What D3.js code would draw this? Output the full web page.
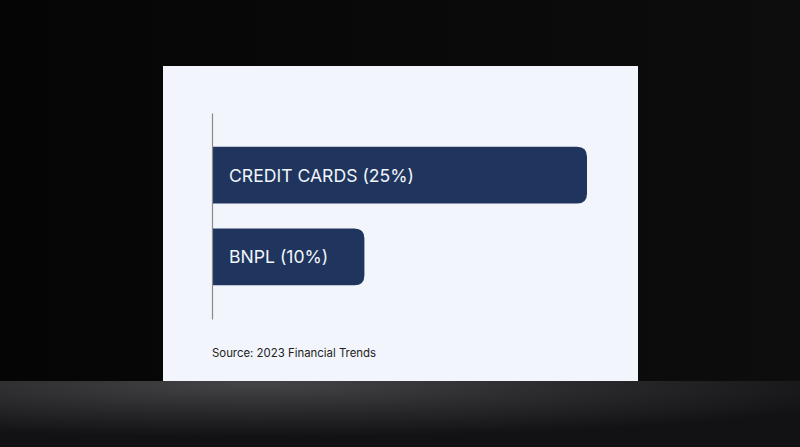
<!DOCTYPE html>
<html>
<head>
  <script src="https://d3js.org/d3.v7.min.js"></script>
  <style>
    body, html { margin: 0; padding: 0; overflow: hidden; background: #0a0a0a; }
    text { font-family: Inter, "Noto Sans", sans-serif; }
  </style>
</head>
<body>
  <div id="chart"></div>
  <script>
    // Data
    const categories = ["CREDIT CARDS", "BNPL"];
    const shares = [25, 10];
    const source = "Source: 2023 Financial Trends";

    const width = 800, height = 447;
    const card = { x: 163, y: 66, w: 475, h: 315 };
    const margin = { left: 49, top: 47 };

    const svg = d3.select("#chart").append("svg")
      .attr("width", width)
      .attr("height", height);

    const defs = svg.append("defs");

    // Background: dark wall + floor
    const wall = defs.append("linearGradient").attr("id", "wall")
      .attr("x1", 0).attr("x2", 1).attr("y1", 0).attr("y2", 0);
    wall.append("stop").attr("offset", "0%").attr("stop-color", "#050505");
    wall.append("stop").attr("offset", "100%").attr("stop-color", "#0d0d0e");

    const floor = defs.append("radialGradient").attr("id", "floor")
      .attr("cx", 0.32).attr("cy", 0.05).attr("r", 0.8);
    floor.append("stop").attr("offset", "0%").attr("stop-color", "#444447");
    floor.append("stop").attr("offset", "50%").attr("stop-color", "#2a2a2c");
    floor.append("stop").attr("offset", "100%").attr("stop-color", "#121214");

    svg.append("rect").attr("width", width).attr("height", height).attr("fill", "url(#wall)");
    svg.append("rect")
      .attr("x", 0).attr("y", card.y + card.h)
      .attr("width", width).attr("height", height - card.y - card.h)
      .attr("fill", "url(#floor)");

    // Card
    svg.append("rect")
      .attr("x", card.x).attr("y", card.y)
      .attr("width", card.w).attr("height", card.h)
      .attr("fill", "#f2f5fb");

    const g = svg.append("g")
      .attr("transform", `translate(${card.x + margin.left},${card.y + margin.top})`);

    const innerH = 206;

    // bars run from 0 to x(value)
    const x = d3.scaleLinear().domain([0, 25]).range([4, 375]);
    const y = d3.scaleBand().domain(categories).range([0, innerH])
      .paddingInner(0.305).paddingOuter(0.415);

    const r = 10;
    function barPath(w, h) {
      return `M0,0H${w - r}Q${w},0 ${w},${r}V${h - r}Q${w},${h} ${w - r},${h}H0Z`;
    }

    const bars = g.selectAll(".bar")
      .data(categories.map((c, i) => ({ cat: c, val: shares[i] })))
      .join("g")
      .attr("class", "bar")
      .attr("transform", d => `translate(0,${y(d.cat)})`);

    bars.append("path")
      .attr("d", d => barPath(x(d.val), y.bandwidth()))
      .attr("fill", "#1f355e");

    bars.append("text")
      .attr("x", 17)
      .attr("y", y.bandwidth() / 2)
      .attr("dy", "0.36em")
      .attr("fill", "#f2f5fb")
      .attr("font-size", 17.6)
      .text(d => `${d.cat} (${d.val}%)`);

    // Axis line
    g.append("g")
      .call(d3.axisLeft(y).tickSize(0).tickFormat(""))
      .call(a => a.select(".domain").attr("stroke", "#8a8a8a").attr("stroke-width", 1.2));

    // Source
    g.append("text")
      .attr("x", 0)
      .attr("y", innerH + 38)
      .attr("fill", "#222")
      .attr("font-size", 11.4)
      .text(source);
  </script>
</body>
</html>
